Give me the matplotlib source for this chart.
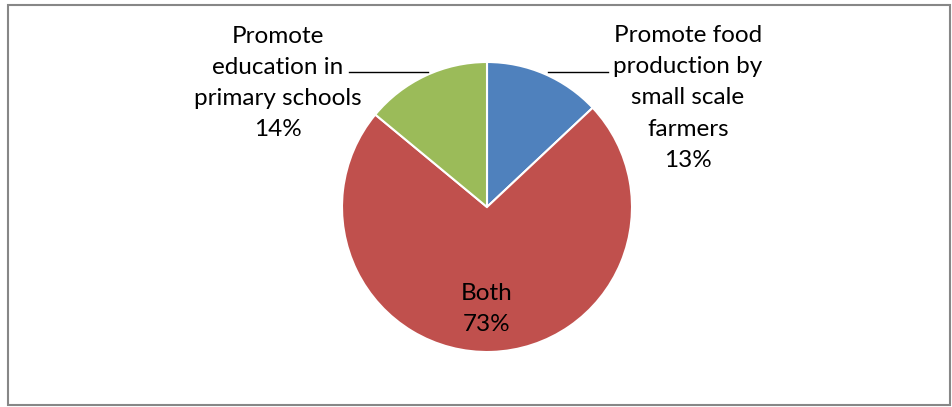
import matplotlib
matplotlib.use("Agg")
import matplotlib.pyplot as plt
from matplotlib.patches import Rectangle

# donnees
labels = ["Promote food\nproduction by\nsmall scale\nfarmers", "Both", "Promote\neducation in\nprimary schools"]
values = [13, 73, 14]
colors = ["#4F81BD", "#C0504D", "#9BBB59"]

W, H = 953, 407
plt.rcParams['font.family'] = ['Lato', 'DejaVu Sans']

fig = plt.figure(figsize=(W / 100, H / 100), dpi=100)
ax = fig.add_axes([0, 0, 1, 1])

# cadre gris
ax.add_patch(Rectangle((8, 2), 942, 400, fill=False, edgecolor="#878787", linewidth=1.5))

cx, cy, r = 487, H - 207, 145
ax.pie(values, colors=colors, startangle=90, counterclock=False,
       center=(cx, cy), radius=r, frame=True,
       wedgeprops=dict(edgecolor="white", linewidth=1.5))
ax.set_xlim(0, W)
ax.set_ylim(0, H)
ax.set_aspect('equal')
ax.axis('off')

fs = 17.5
ls = 1.6
# etiquettes
ax.text(688, H - 98, labels[0] + "\n%d%%" % values[0], ha='center', va='center',
        fontsize=fs, linespacing=ls)
ax.text(278, H - 83, labels[2] + "\n%d%%" % values[2], ha='center', va='center',
        fontsize=fs, linespacing=ls)
ax.text(cx, H - 309, labels[1] + "\n%d%%" % values[1], ha='center', va='center',
        fontsize=fs, linespacing=ls)

# lignes de rappel
ax.plot([548, 608], [H - 72, H - 72], color="black", linewidth=1)
ax.plot([349, 428], [H - 72, H - 72], color="black", linewidth=1)

fig.savefig("out.png", dpi=100)
